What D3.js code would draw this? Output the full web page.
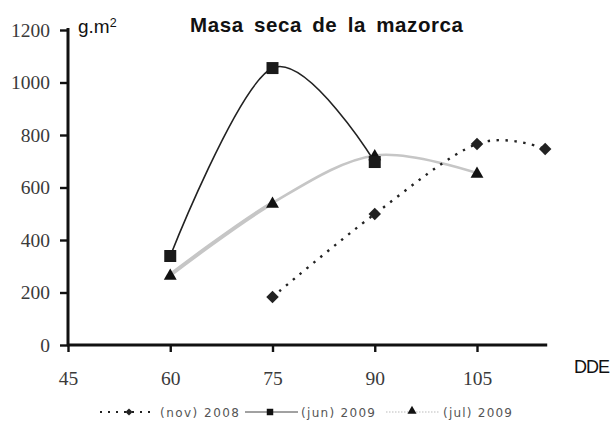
<!DOCTYPE html>
<html><head><meta charset="utf-8">
<script src="https://cdn.jsdelivr.net/npm/d3@7"></script>
<style>body{margin:0;background:#fff}</style>
</head><body>
<svg id="c" width="613" height="421"></svg>
<script>
const xTicks = [45, 60, 75, 90, 105];
const yTicks = [0, 200, 400, 600, 800, 1000, 1200];
const nov2008 = [[75, 183], [90, 499], [105, 766], [115, 747]];
const jun2009 = [[60, 339], [75, 1055], [90, 697]];
const jul2009 = [[60, 267], [75, 541], [90, 722], [105, 655]];
const seriesNames = ["(nov) 2008", "(jun) 2009", "(jul) 2009"];

const svg = d3.select("#c");
const x = d3.scaleLinear().domain([45, 105]).range([68, 477]);
const y = d3.scaleLinear().domain([0, 1200]).range([345, 30]);
const xEnd = x(115.3);

const line = d3.line().x(d => x(d[0])).y(d => y(d[1])).curve(d3.curveCardinal.tension(0));

// series lines
svg.append("defs").append("clipPath").attr("id", "leftPart")
  .append("rect").attr("x", 0).attr("y", 0).attr("width", x(75)).attr("height", 421);
svg.append("path").attr("d", line(jul2009)).attr("fill", "none")
  .attr("stroke", "#c6c6c6").attr("stroke-width", 2.6);
svg.append("path").attr("d", line(jul2009)).attr("fill", "none").attr("clip-path", "url(#leftPart)")
  .attr("stroke", "#c6c6c6").attr("stroke-width", 4);
svg.append("path").attr("d", line(jun2009)).attr("fill", "none")
  .attr("stroke", "#222").attr("stroke-width", 1.6);
svg.append("path").attr("d", line(nov2008)).attr("fill", "none")
  .attr("stroke", "#222").attr("stroke-width", 2.4)
  .attr("stroke-dasharray", "2.4,6.5").attr("stroke-linecap", "butt");

// axes
const serif = "'Liberation Serif','Times New Roman',serif";
const gy = svg.append("g").attr("transform", "translate(68,0)")
  .call(d3.axisLeft(y).tickValues(yTicks).tickSize(8).tickPadding(10).tickFormat(d3.format("d")));
const gx = svg.append("g").attr("transform", "translate(0,345)")
  .call(d3.axisBottom(x).tickValues(xTicks).tickSize(7).tickPadding(19).tickFormat(d3.format("d")));
[gy, gx].forEach(g => {
  g.attr("font-family", serif).attr("font-size", 19.5);
  g.select(".domain").remove();
  g.selectAll(".tick line").attr("stroke", "#111").attr("stroke-width", 2.4);
  g.selectAll(".tick text").attr("fill", "#3a3a3a");
});
svg.append("line").attr("x1", 68).attr("x2", 68).attr("y1", 28).attr("y2", 346)
  .attr("stroke", "#111").attr("stroke-width", 3);
svg.append("line").attr("x1", 67).attr("x2", xEnd).attr("y1", 345).attr("y2", 345)
  .attr("stroke", "#111").attr("stroke-width", 3);

// markers
const sym = (type, size) => d3.symbol().type(type).size(size)();
svg.selectAll(".jul").data(jul2009).join("path")
  .attr("transform", d => `translate(${x(d[0])},${y(d[1]) + 1})`)
  .attr("d", sym(d3.symbolTriangle, 72)).attr("fill", "#111");
svg.selectAll(".jun").data(jun2009).join("path")
  .attr("transform", d => `translate(${x(d[0])},${y(d[1])})`)
  .attr("d", sym(d3.symbolSquare, 144)).attr("fill", "#1a1a1a");
svg.selectAll(".nov").data(nov2008).join("path")
  .attr("transform", d => `translate(${x(d[0])},${y(d[1])}) rotate(45)`)
  .attr("d", sym(d3.symbolSquare, 78)).attr("fill", "#222");

// texts
const sans = "'Liberation Sans',Arial,sans-serif";
svg.append("text").attr("x", 190).attr("y", 32).text("Masa seca de la mazorca")
  .attr("font-family", sans).attr("font-weight", "bold").attr("font-size", 20.5)
  .attr("word-spacing", 4).attr("fill", "#111").attr("textLength", 273);
const gm = svg.append("text").attr("x", 78).attr("y", 33)
  .attr("font-family", sans).attr("font-size", 19).attr("fill", "#111");
gm.append("tspan").text("g.m");
gm.append("tspan").text("2").attr("dy", -6).attr("font-size", 12.5);
svg.append("text").attr("x", 574).attr("y", 373).text("DDE")
  .attr("font-family", sans).attr("font-size", 18).attr("fill", "#111")
  .attr("letter-spacing", -1);

// legend
const ly = 412;
const leg = svg.append("g");
const lsans = "'DejaVu Sans',Verdana,sans-serif";
const lf = (s, len) => s.attr("font-family", lsans).attr("font-size", 12).attr("fill", "#555").attr("textLength", len);
leg.append("line").attr("x1", 100).attr("x2", 153).attr("y1", ly).attr("y2", ly)
  .attr("stroke", "#222").attr("stroke-width", 2).attr("stroke-dasharray", "2,6");
leg.append("path").attr("transform", `translate(129,${ly}) rotate(45)`).attr("d", sym(d3.symbolSquare, 26)).attr("fill", "#222");
lf(leg.append("text").attr("x", 160).attr("y", ly + 4.5).text(seriesNames[0]), 79);
leg.append("line").attr("x1", 245).attr("x2", 298).attr("y1", ly).attr("y2", ly)
  .attr("stroke", "#444").attr("stroke-width", 1);
leg.append("path").attr("transform", `translate(270,${ly})`).attr("d", sym(d3.symbolSquare, 42)).attr("fill", "#111");
lf(leg.append("text").attr("x", 301).attr("y", ly + 4.5).text(seriesNames[1]), 74);
leg.append("line").attr("x1", 386).attr("x2", 440).attr("y1", ly).attr("y2", ly)
  .attr("stroke", "#bbb").attr("stroke-width", 1).attr("stroke-dasharray", "1.5,1.5");
leg.append("path").attr("transform", `translate(412,${ly - 1})`).attr("d", sym(d3.symbolTriangle, 36)).attr("fill", "#111");
lf(leg.append("text").attr("x", 443).attr("y", ly + 4.5).text(seriesNames[2]), 69);
</script>
</body></html>
